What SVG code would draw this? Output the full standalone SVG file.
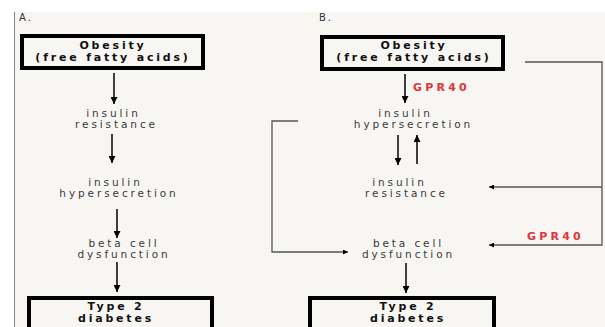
<svg xmlns="http://www.w3.org/2000/svg" width="605" height="327" viewBox="0 0 605 327">
<defs>
<style>
.lbl{font-family:"DejaVu Sans",Verdana,sans-serif;font-size:10.5px;fill:#3a3a3a;text-anchor:middle;letter-spacing:2.9px}
.box{fill:none;stroke:#000;stroke-width:4}
.bt{font-family:"DejaVu Sans",Verdana,sans-serif;font-size:11px;font-weight:bold;fill:#111;text-anchor:middle;letter-spacing:2.8px}
.pl{font-family:"DejaVu Sans",Verdana,sans-serif;font-size:10px;fill:#333;letter-spacing:2px}
.red{font-family:"DejaVu Sans",Verdana,sans-serif;font-size:11px;font-weight:bold;fill:#e0343a;letter-spacing:3.2px}
.arr{stroke:#000;stroke-width:1.5;fill:none}
.thin{stroke:#555;stroke-width:1.3;fill:none}
</style>
<marker id="ah" viewBox="0 0 10 10" refX="10" refY="5" markerWidth="8" markerHeight="7" markerUnits="userSpaceOnUse" orient="auto"><path d="M0,0 L10,5 L0,10 z" fill="#000"/></marker>
<marker id="ahs" viewBox="0 0 10 10" refX="10" refY="5" markerWidth="12" markerHeight="5" markerUnits="userSpaceOnUse" orient="auto"><path d="M0,0 L10,5 L0,10 z" fill="#000"/></marker>
</defs>
<rect x="0" y="0" width="605" height="327" fill="#ffffff"/>
<rect x="14" y="12" width="591" height="315" fill="#f7f6f3"/>
<line x1="14.5" y1="12" x2="14.5" y2="327" stroke="#888" stroke-width="1"/>
<text class="pl" x="19" y="21">A.</text>
<text class="pl" x="319" y="21">B.</text>

<g id="connectors">
<line class="arr" x1="114" y1="73" x2="114" y2="104" marker-end="url(#ah)"/>
<line class="arr" x1="112" y1="134" x2="112" y2="163" marker-end="url(#ah)"/>
<line class="arr" x1="117" y1="209" x2="117" y2="238" marker-end="url(#ah)"/>
<line class="arr" x1="117" y1="262" x2="117" y2="292" marker-end="url(#ah)"/>

<line class="arr" x1="405" y1="74" x2="405" y2="103" marker-end="url(#ah)"/>
<line class="arr" x1="398" y1="135" x2="398" y2="165" marker-end="url(#ah)"/>
<line class="arr" x1="417" y1="164" x2="417" y2="135" marker-end="url(#ah)"/>
<line class="arr" x1="406" y1="263" x2="406" y2="293" marker-end="url(#ah)"/>

<polyline class="thin" points="525,62 602,62 602,245 489,245" marker-end="url(#ahs)"/>
<line class="thin" x1="602" y1="187" x2="489" y2="187" marker-end="url(#ahs)"/>
<polyline class="thin" points="298,121 272,121 272,252 348,252" marker-end="url(#ahs)"/>
</g>

<g id="a-obesity">
<rect class="box" x="22" y="36" width="181" height="32"/>
<text class="bt" x="113" y="49">Obesity</text>
<text class="bt" x="113" y="61">(free fatty acids)</text>
</g>
<g id="a-resistance">
<text class="lbl" x="113.5" y="117">insulin</text>
<text class="lbl" x="116.5" y="128">resistance</text>
</g>
<g id="a-hyper">
<text class="lbl" x="115.5" y="186">insulin</text>
<text class="lbl" x="119" y="197">hypersecretion</text>
</g>
<g id="a-beta">
<text class="lbl" x="124" y="247">beta cell</text>
<text class="lbl" x="124" y="258">dysfunction</text>
</g>
<g id="a-t2d">
<rect class="box" x="29" y="298" width="183" height="40"/>
<text class="bt" x="116" y="310">Type 2</text>
<text class="bt" x="116" y="322">diabetes</text>
</g>

<g id="b-obesity">
<rect class="box" x="322" y="37" width="181" height="32"/>
<text class="bt" x="414" y="49">Obesity</text>
<text class="bt" x="414" y="61">(free fatty acids)</text>
</g>
<g id="b-gpr40-top"><text class="red" x="413" y="91">GPR40</text></g>
<g id="b-hyper">
<text class="lbl" x="405.5" y="117">insulin</text>
<text class="lbl" x="413.5" y="128">hypersecretion</text>
</g>
<g id="b-resistance">
<text class="lbl" x="399.5" y="186">insulin</text>
<text class="lbl" x="406.5" y="197">resistance</text>
</g>
<g id="b-gpr40-right"><text class="red" x="527" y="240">GPR40</text></g>
<g id="b-beta">
<text class="lbl" x="408.5" y="247">beta cell</text>
<text class="lbl" x="408.5" y="258">dysfunction</text>
</g>
<g id="b-t2d">
<rect class="box" x="310" y="298" width="184" height="40"/>
<text class="bt" x="408" y="310">Type 2</text>
<text class="bt" x="408" y="322">diabetes</text>
</g>
</svg>
